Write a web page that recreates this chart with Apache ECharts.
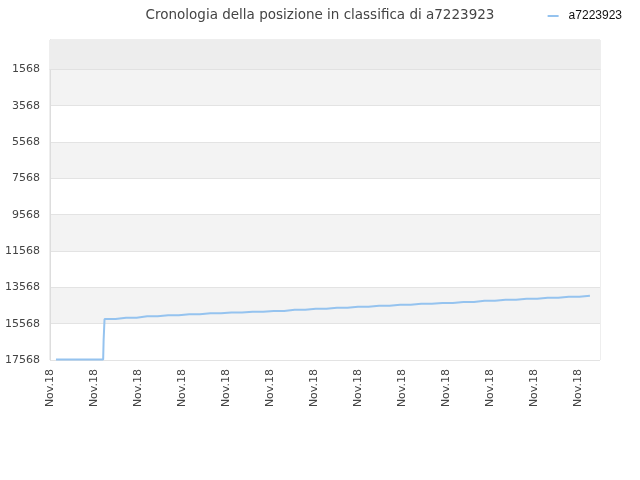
<!DOCTYPE html>
<html>
<head>
<meta charset="utf-8">
<script src="https://cdn.jsdelivr.net/npm/echarts@6/dist/echarts.min.js"></script>
<style>
  html, body { margin: 0; padding: 0; background: #fff; }
  #chart { width: 640px; height: 480px; }
</style>
</head>
<body>
<div id="chart"></div>
<script>
// snapshot times and ranking positions
var times = [
  '2018-11-01T06:30', '2018-11-03T10:00', '2018-11-03T11:00',
  '2018-11-03T12:00', '2018-11-04T11:00', '2018-11-05T10:00', '2018-11-06T09:00',
  '2018-11-07T08:00', '2018-11-08T07:00', '2018-11-09T06:00', '2018-11-10T05:00',
  '2018-11-11T04:00', '2018-11-12T03:00', '2018-11-13T02:00', '2018-11-14T01:00',
  '2018-11-15T00:00', '2018-11-15T23:00', '2018-11-16T22:00', '2018-11-17T21:00',
  '2018-11-18T20:00', '2018-11-19T19:00', '2018-11-20T18:00', '2018-11-21T17:00',
  '2018-11-22T16:00', '2018-11-23T15:00', '2018-11-24T14:00', '2018-11-25T13:00'
];
var ranks = [
  17540, 17540, 16467,
  15311, 15240, 15163, 15108, 15053, 14998, 14959, 14910,
  14871, 14800, 14745, 14690, 14634, 14579, 14524, 14475,
  14431, 14376, 14304, 14249, 14194, 14139, 14084, 14029
];
var playerName = 'a7223923';

// y tick labels are 1568, 3568 ... 17568: values are plotted relative to the first tick
var rankBase = 1568;
var rankTop = -45;      // top edge of the plot
var rankBottom = 17568; // bottom edge of the plot

var xStart = '2018-11-01T00:00';
var xEnd = '2018-11-26T00:00';
var labelStep = 2 * 24 * 3600 * 1000;

var monthNames = ['Jan', 'Feb', 'Mar', 'Apr', 'May', 'Jun', 'Jul', 'Aug', 'Sep', 'Oct', 'Nov', 'Dec'];

function toMs(s) {
  return new Date(s + ':00Z').getTime();
}

var seriesData = [];
for (var i = 0; i < times.length; i++) {
  seriesData.push([toMs(times[i]), ranks[i] - rankBase]);
}

var chart = echarts.init(document.getElementById('chart'));
chart.setOption({
  animation: false,
  textStyle: { fontFamily: 'DejaVu Sans' },
  title: {
    text: 'Cronologia della posizione in classifica di ' + playerName,
    left: 'center',
    top: 3,
    textStyle: { fontSize: 13.5, fontWeight: 'normal', color: '#444', fontFamily: 'DejaVu Sans' }
  },
  legend: {
    right: 13,
    top: 5,
    icon: 'rect',
    itemWidth: 11,
    itemHeight: 2,
    textStyle: { fontSize: 12, color: '#111', padding: [0, 0, 0, 5], fontFamily: 'Liberation Sans' },
    data: [playerName]
  },
  grid: {
    left: 50,
    right: 40,
    top: 40,
    bottom: 120,
    show: true,
    borderColor: '#ddd',
    borderWidth: 1,
    backgroundColor: 'transparent'
  },
  xAxis: {
    type: 'value',
    min: toMs(xStart),
    max: toMs(xEnd),
    interval: labelStep,
    axisLine: { show: true, lineStyle: { color: '#ddd' } },
    axisTick: { show: false },
    splitLine: { show: false },
    axisLabel: {
      rotate: 90,
      margin: 9,
      fontSize: 11,
      color: '#444',
      showMaxLabel: false,
      formatter: function (v) {
        var d = new Date(v);
        return monthNames[d.getUTCMonth()] + '.' + String(d.getUTCFullYear()).slice(2);
      }
    }
  },
  yAxis: {
    type: 'value',
    inverse: true,
    min: rankTop - rankBase,
    max: rankBottom - rankBase,
    splitNumber: 8,
    axisLine: { show: true, lineStyle: { color: '#ddd' } },
    axisTick: { show: false },
    splitLine: { show: true, lineStyle: { color: '#e3e3e3' } },
    splitArea: { show: true, areaStyle: { color: ['#ffffff', '#f3f3f3'] } },
    axisLabel: {
      margin: 10,
      fontSize: 11,
      color: '#444',
      formatter: function (v) {
        return v < 0 ? '' : String(v + rankBase);
      }
    }
  },
  series: [{
    name: playerName,
    type: 'line',
    step: 'middle',
    showSymbol: false,
    symbol: 'none',
    color: '#95c3ef',
    lineStyle: { width: 2, color: '#95c3ef' },
    data: seriesData,
    markArea: {
      silent: true,
      itemStyle: { color: '#ededed' },
      data: [[{ yAxis: rankTop - rankBase }, { yAxis: 0 }]]
    }
  }]
});
</script>
</body>
</html>
